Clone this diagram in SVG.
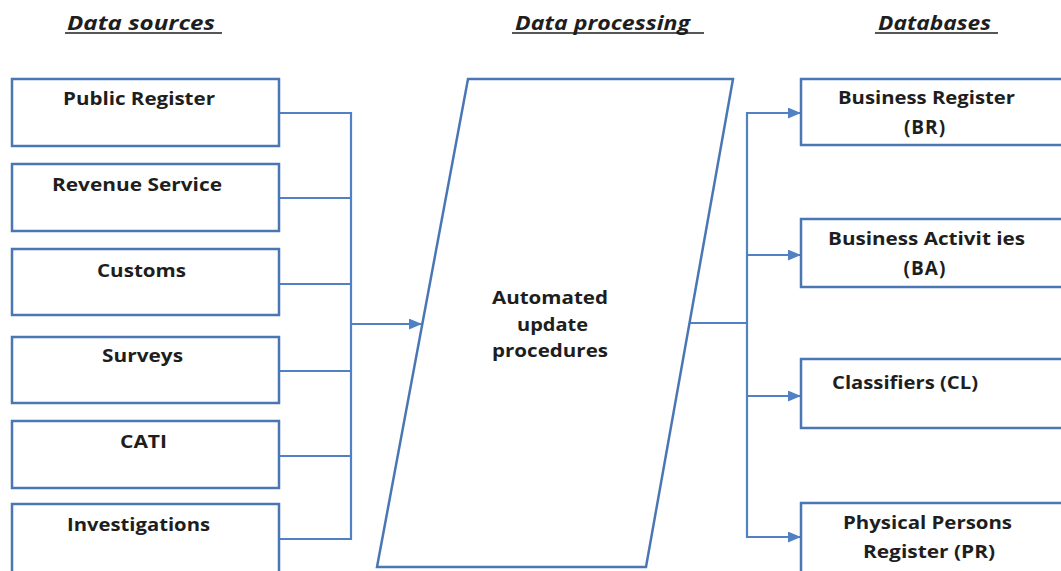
<svg xmlns="http://www.w3.org/2000/svg" width="1061" height="571" viewBox="0 0 1061 571">
  <style>
    .box { fill: #ffffff; stroke: #4a77b4; stroke-width: 2.5; }
    .wire { fill: none; stroke: #4f81c4; stroke-width: 2.2; }
    .lbl { font-family: "Open Sans", "Liberation Sans", sans-serif; font-weight: bold; font-size: 18px; fill: #1e1e1e; }
    .abbr { font-family: "Open Sans", "Liberation Sans", sans-serif; font-weight: bold; font-size: 19px; fill: #1e1e1e; text-anchor: middle; letter-spacing: 1px; }
    .head { font-family: "Open Sans", "Liberation Sans", sans-serif; font-weight: bold; font-style: italic; font-size: 20px; fill: #1e1e1e; }
    .rule { stroke: #1e1e1e; stroke-width: 1.5; }
  </style>
  <defs>
    <marker id="arrow" viewBox="0 0 12 10" refX="12" refY="5" markerWidth="6" markerHeight="5" orient="auto" markerUnits="strokeWidth">
      <path d="M0,0 L12,5 L0,10 z" fill="#4f81c4"/>
    </marker>
  </defs>
  <rect width="1061" height="571" fill="#ffffff"/>

  <!-- column headings -->
  <g id="headings">
    <text class="head" x="67" y="30" textLength="148" lengthAdjust="spacingAndGlyphs">Data sources</text>
    <line class="rule" x1="65" y1="33" x2="222" y2="33"/>
    <text class="head" x="515" y="30" textLength="175" lengthAdjust="spacingAndGlyphs">Data processing</text>
    <line class="rule" x1="512" y1="33" x2="704" y2="33"/>
    <text class="head" x="878" y="30" textLength="113" lengthAdjust="spacingAndGlyphs">Databases</text>
    <line class="rule" x1="875" y1="33" x2="998" y2="33"/>
  </g>

  <!-- connectors -->
  <g id="connectors">
    <polyline class="wire" points="279,113 351,113 351,539 279,539"/>
    <line class="wire" x1="279" y1="198" x2="351" y2="198"/>
    <line class="wire" x1="279" y1="284" x2="351" y2="284"/>
    <line class="wire" x1="279" y1="371" x2="351" y2="371"/>
    <line class="wire" x1="279" y1="456" x2="351" y2="456"/>
    <line class="wire" x1="351" y1="324" x2="422" y2="324" marker-end="url(#arrow)"/>
    <line class="wire" x1="690" y1="323" x2="747" y2="323"/>
    <line class="wire" x1="747" y1="112" x2="747" y2="538"/>
    <line class="wire" x1="746" y1="113" x2="801" y2="113" marker-end="url(#arrow)"/>
    <line class="wire" x1="746" y1="255" x2="801" y2="255" marker-end="url(#arrow)"/>
    <line class="wire" x1="746" y1="396" x2="801" y2="396" marker-end="url(#arrow)"/>
    <line class="wire" x1="746" y1="537" x2="801" y2="537" marker-end="url(#arrow)"/>
  </g>

  <!-- data sources -->
  <g id="public-register">
    <rect class="box" x="12" y="79" width="267" height="67"/>
    <text class="lbl" x="63" y="105" textLength="152" lengthAdjust="spacingAndGlyphs">Public Register</text>
  </g>
  <g id="revenue-service">
    <rect class="box" x="12" y="164" width="267" height="67"/>
    <text class="lbl" x="52" y="191" textLength="170" lengthAdjust="spacingAndGlyphs">Revenue Service</text>
  </g>
  <g id="customs">
    <rect class="box" x="12" y="249" width="267" height="66"/>
    <text class="lbl" x="97" y="277" textLength="89" lengthAdjust="spacingAndGlyphs">Customs</text>
  </g>
  <g id="surveys">
    <rect class="box" x="12" y="337" width="267" height="66"/>
    <text class="lbl" x="102" y="362" textLength="81" lengthAdjust="spacingAndGlyphs">Surveys</text>
  </g>
  <g id="cati">
    <rect class="box" x="12" y="421" width="267" height="67"/>
    <text class="lbl" x="120" y="448" textLength="47" lengthAdjust="spacingAndGlyphs">CATI</text>
  </g>
  <g id="investigations">
    <rect class="box" x="12" y="504" width="267" height="80"/>
    <text class="lbl" x="67" y="531" textLength="143" lengthAdjust="spacingAndGlyphs">Investigations</text>
  </g>

  <!-- processing -->
  <g id="automated-update">
    <polygon class="box" points="468,79 733,79 646,567 377,567"/>
    <text class="lbl" x="492" y="304" textLength="116" lengthAdjust="spacingAndGlyphs">Automated</text>
    <text class="lbl" x="517" y="331" textLength="71" lengthAdjust="spacingAndGlyphs">update</text>
    <text class="lbl" x="492" y="357" textLength="116" lengthAdjust="spacingAndGlyphs">procedures</text>
  </g>

  <!-- databases -->
  <g id="business-register">
    <rect class="box" x="801" y="79" width="270" height="66"/>
    <text class="lbl" x="838" y="104" textLength="177" lengthAdjust="spacingAndGlyphs">Business Register</text>
    <text class="abbr" x="925" y="134">(BR)</text>
  </g>
  <g id="business-activities">
    <rect class="box" x="801" y="219" width="270" height="68"/>
    <text class="lbl" x="828" y="245" textLength="197" lengthAdjust="spacingAndGlyphs">Business Activit ies</text>
    <text class="abbr" x="925" y="275">(BA)</text>
  </g>
  <g id="classifiers">
    <rect class="box" x="801" y="359" width="270" height="69"/>
    <text class="lbl" x="832" y="389" textLength="146" lengthAdjust="spacingAndGlyphs">Classifiers (CL)</text>
  </g>
  <g id="physical-persons">
    <rect class="box" x="801" y="503" width="270" height="80"/>
    <text class="lbl" x="843" y="529" textLength="169" lengthAdjust="spacingAndGlyphs">Physical Persons</text>
    <text class="lbl" x="863" y="558" textLength="132" lengthAdjust="spacingAndGlyphs">Register (PR)</text>
  </g>
</svg>
